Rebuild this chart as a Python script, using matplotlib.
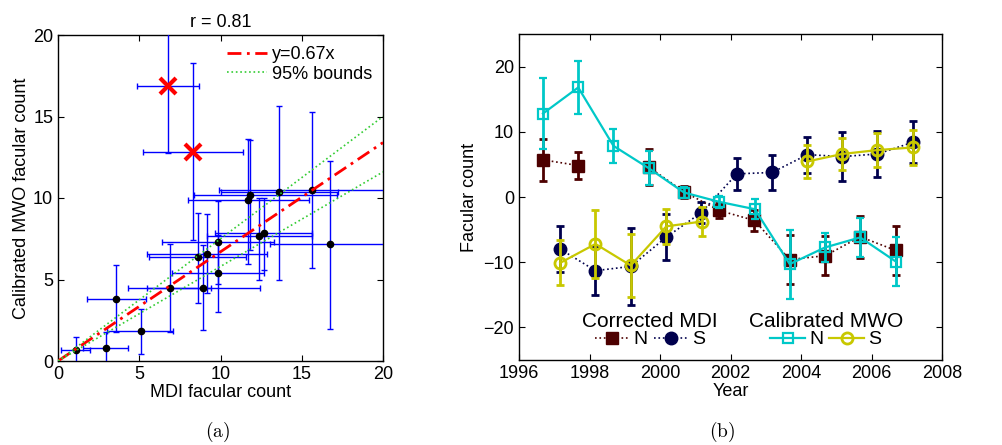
import numpy as np
import matplotlib
matplotlib.use("Agg")
import matplotlib.pyplot as plt
from matplotlib.lines import Line2D

plt.rcParams["font.family"] = ["Liberation Sans", "DejaVu Sans"]
plt.rcParams["mathtext.fontset"] = "cm"

# ---- panel (a): MDI vs calibrated MWO facular count ----
mdi_x = [1.11, 2.96, 3.59, 5.09, 6.88, 8.60, 8.93, 9.16, 9.82, 9.82,
         11.72, 11.80, 12.38, 12.67, 13.57, 15.65, 16.76]
mwo_y = [0.66, 0.82, 3.83, 1.82, 4.50, 6.35, 4.50, 6.59, 7.27, 5.42,
         9.85, 10.17, 7.68, 7.84, 10.34, 10.50, 7.16]
x_lo = [0.9, 1.40, 1.78, 2.09, 2.55, 3.00, 3.47, 3.66, 3.43, 2.82,
        3.69, 3.42, 3.22, 3.00, 3.57, 5.77, 3.70]
x_hi = [0.86, 1.35, 1.81, 1.97, 2.55, 2.98, 3.47, 3.69, 3.45, 2.83,
        3.70, 5.37, 3.25, 2.95, 3.63, 5.77, 3.70]
y_lo = [0.8, 0.95, 2.05, 1.41, 2.70, 2.79, 2.58, 2.41, 2.52, 2.42,
        3.87, 3.37, 2.73, 2.24, 5.34, 4.79, 5.17]
y_hi = [0.81, 0.96, 2.05, 1.39, 2.70, 2.76, 2.60, 2.40, 2.53, 2.30,
        3.80, 3.38, 2.29, 2.19, 5.30, 4.80, 5.12]

out_x = [6.74, 8.28]
out_y = [16.87, 12.81]
out_xerr = [[1.89, 3.06], [1.93, 3.08]]
out_yerr = [[4.10, 5.36], [4.10, 5.45]]

fit_slope = 0.67
bound_hi = 0.75
bound_lo = 0.58

# ---- panel (b): facular counts vs year (nan = no data that year) ----
mdi_n_year = [1996.68, 1997.68, 1998.68, 1999.68, 2000.68, 2001.68, 2002.68,
              2003.68, 2004.69, 2005.68, 2006.69]
mdi_n = [5.7, 4.83, np.nan, 4.6, 0.8, -2.07, -3.6, -9.6, -9.0, -6.1, -8.2]
mdi_n_err = [3.2, 2.1, np.nan, 2.7, 0.9, 1.2, 1.6, 3.7, 3.0, 3.2, 3.8]

mdi_s_year = [1997.17, 1998.17, 1999.17, 2000.18, 2001.17, 2002.18,
              2003.18, 2004.18, 2005.17, 2006.17, 2007.18]
mdi_s = [-8.0, -11.3, -10.65, -6.15, -2.4, 3.55, 3.76, 6.5, 6.2, 6.6, 8.4]
mdi_s_err = [3.5, 3.8, 5.9, 3.5, 1.6, 2.5, 2.7, 2.75, 3.7, 3.5, 3.25]

mwo_n_year = [1996.68, 1997.68, 1998.68, 1999.68, 2000.68, 2001.68,
              2002.69, 2003.68, 2004.68, 2005.68, 2006.69]
mwo_n = [12.8, 16.8, 7.84, 4.42, 0.69, -0.74, -1.87, -10.3, -7.74, -6.2, -9.9]
mwo_n_err = [5.4, 4.1, 2.6, 2.6, 0.9, 0.9, 1.55, 5.3, 2.25, 2.95, 3.8]

mwo_s_year = [1997.17, 1998.17, 1999.17, 2000.18, 2001.19, 2002.18, 2003.18,
              2004.18, 2005.17, 2006.17, 2007.18]
mwo_s = [-10.1, -7.2, -10.5, -4.5, -3.76, np.nan, np.nan, 5.45, 6.6, 7.2, 7.6]
mwo_s_err = [3.45, 5.2, 4.8, 2.7, 2.2, np.nan, np.nan, 2.5, 2.5, 2.6, 2.65]

C_DRED = "#4d0000"
C_NAVY = "#00004d"
C_CYAN = "#00c8c8"
C_YEL = "#c8c800"


def style_axes(ax):
    ax.tick_params(direction="in", top=True, right=True, labelsize=13,
                   length=4, width=0.8)
    for s in ax.spines.values():
        s.set_linewidth(1.0)


fig = plt.figure(figsize=(10.03, 4.45), dpi=100)

# panel (a)
ax1 = fig.add_axes([58 / 1003, 84 / 445, 325 / 1003, 326 / 445])
xs = np.array([0, 20])
ax1.plot(xs, fit_slope * xs, color="red", ls="-.", lw=2, dashes=(5, 2, 1, 2),
         label="y=0.67x", zorder=4)
ax1.plot(xs, bound_hi * xs, color="#33cc33", ls=":", lw=1.2, label="95% bounds", zorder=4)
ax1.plot(xs, bound_lo * xs, color="#33cc33", ls=":", lw=1.2, zorder=4)
ax1.errorbar(mdi_x, mwo_y, xerr=[x_lo, x_hi], yerr=[y_lo, y_hi], fmt="o",
             color="black", ms=4.5, ecolor="blue", elinewidth=1.0, capsize=2.5,
             capthick=1.0, zorder=3)
ax1.errorbar(out_x, out_y, xerr=out_xerr, yerr=out_yerr, fmt="none",
             ecolor="blue", elinewidth=1.0, capsize=2.5, capthick=1.0, zorder=3)
ax1.plot(out_x, out_y, "x", color="red", ms=12, mew=3, zorder=5)
ax1.set_xlim(0, 20)
ax1.set_ylim(0, 20)
ax1.set_xticks([0, 5, 10, 15, 20])
ax1.set_yticks([0, 5, 10, 15, 20])
style_axes(ax1)
ax1.set_xlabel("MDI facular count", fontsize=13, labelpad=1)
ax1.set_ylabel("Calibrated MWO facular count", fontsize=13, labelpad=2)
ax1.set_title("r = 0.81", fontsize=13, pad=6)
ax1.legend(loc="upper right", frameon=False, fontsize=13, handlelength=2.2,
           handletextpad=0.3, borderaxespad=0.2, labelspacing=0.15)

# panel (b)
ax2 = fig.add_axes([519 / 1003, 85 / 445, 423 / 1003, 326 / 445])
ebk = dict(elinewidth=2.0, capsize=3, capthick=2.0)
ax2.errorbar(mdi_n_year, mdi_n, yerr=mdi_n_err, color=C_DRED, marker="s", ms=8,
             ls=":", lw=1.2, **ebk, zorder=2)
ax2.errorbar(mdi_s_year, mdi_s, yerr=mdi_s_err, color=C_NAVY, marker="o", ms=9,
             ls=":", lw=1.2, **ebk, zorder=2)
ax2.errorbar(mwo_n_year, mwo_n, yerr=mwo_n_err, color=C_CYAN, marker="s", ms=7,
             mfc="none", mew=1.6, ls="-", lw=1.6, **ebk, zorder=3)
ax2.errorbar(mwo_s_year, mwo_s, yerr=mwo_s_err, color=C_YEL, marker="o", ms=8,
             mfc="none", mew=2.0, ls="-", lw=1.6, **ebk, zorder=3)
ax2.set_xlim(1996, 2008)
ax2.set_ylim(-25, 25)
ax2.set_xticks(range(1996, 2009, 2))
ax2.set_yticks([-20, -10, 0, 10, 20])
ax2.set_yticklabels(["\u221220", "\u221210", "0", "10", "20"])
style_axes(ax2)
ax2.set_xlabel("Year", fontsize=13, labelpad=1)
ax2.set_ylabel("Facular count", fontsize=13, labelpad=4)

h_mdi = [Line2D([], [], color=C_DRED, marker="s", ms=8, ls=":", lw=1.2),
         Line2D([], [], color=C_NAVY, marker="o", ms=9, ls=":", lw=1.2)]
h_mwo = [Line2D([], [], color=C_CYAN, marker="s", ms=7, mfc="none", mew=1.6, lw=1.6),
         Line2D([], [], color=C_YEL, marker="o", ms=8, mfc="none", mew=2.0, lw=1.6)]
lkw = dict(ncol=2, frameon=False, fontsize=14, title_fontsize=15,
           handlelength=1.8, handletextpad=0.2, columnspacing=0.3,
           borderpad=0.1)
leg1 = ax2.legend(h_mdi, ["N", "S"], title="Corrected MDI",
                  loc="lower center", bbox_to_anchor=(0.31, 0.0), **lkw)
leg1._legend_box.sep = 0
ax2.add_artist(leg1)
leg2 = ax2.legend(h_mwo, ["N", "S"], title="Calibrated MWO",
                  loc="lower center", bbox_to_anchor=(0.725, 0.0), **lkw)
leg2._legend_box.sep = 0

fig.text(218 / 1003, 1 - 432 / 445, r"$\mathrm{(a)}$", fontsize=14,
         ha="center", va="center")
fig.text(722 / 1003, 1 - 432 / 445, r"$\mathrm{(b)}$", fontsize=14,
         ha="center", va="center")

fig.savefig("out.png", dpi=100)
